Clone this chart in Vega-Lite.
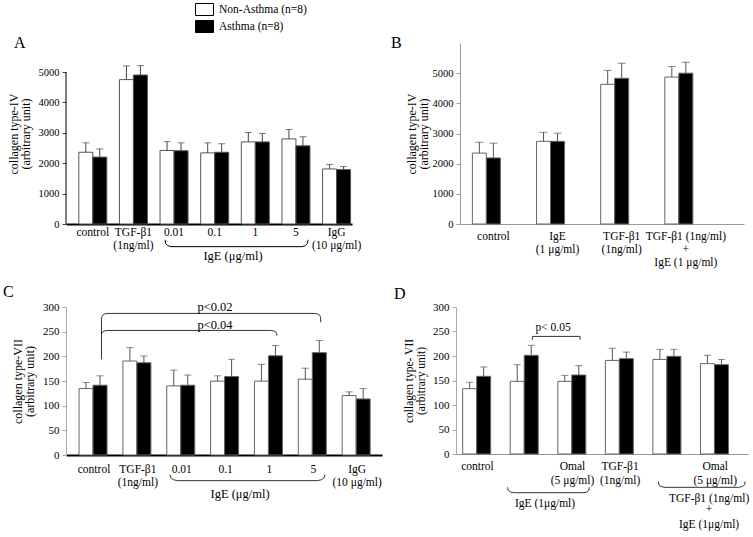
{
  "$schema": "https://vega.github.io/schema/vega-lite/v6.json",
  "padding": {"left": 3, "top": 3, "right": 0, "bottom": 0},
  "background": "white",
  "config": {
    "font": "Liberation Serif, Times New Roman, serif",
    "view": {"stroke": null},
    "axis": {"grid": false, "labelFont": "Liberation Serif, Times New Roman, serif", "titleFont": "Liberation Serif, Times New Roman, serif", "labelColor": "black", "titleColor": "black", "titleFontWeight": "normal", "format": "d", "labelOverlap": false},
    "title": {"font": "Liberation Serif, Times New Roman, serif", "fontSize": 16, "fontWeight": "normal", "anchor": "start", "frame": "group", "color": "black"},
    "text": {"font": "Liberation Serif, Times New Roman, serif", "fontSize": 12.5},
    "legend": {"labelFont": "Liberation Serif, Times New Roman, serif"}
  },
  "datasets": {
    "bars": [
      {"panel": "A", "group": "control", "status": "Non-Asthma (n=8)", "value": 2360, "err": 2670},
      {"panel": "A", "group": "control", "status": "Asthma (n=8)", "value": 2200, "err": 2470},
      {"panel": "A", "group": "TGF-β1", "status": "Non-Asthma (n=8)", "value": 4750, "err": 5200},
      {"panel": "A", "group": "TGF-β1", "status": "Asthma (n=8)", "value": 4900, "err": 5210},
      {"panel": "A", "group": "IgE 0.01", "status": "Non-Asthma (n=8)", "value": 2420, "err": 2710},
      {"panel": "A", "group": "IgE 0.01", "status": "Asthma (n=8)", "value": 2410, "err": 2670},
      {"panel": "A", "group": "IgE 0.1", "status": "Non-Asthma (n=8)", "value": 2340, "err": 2670},
      {"panel": "A", "group": "IgE 0.1", "status": "Asthma (n=8)", "value": 2360, "err": 2640},
      {"panel": "A", "group": "IgE 1", "status": "Non-Asthma (n=8)", "value": 2700, "err": 3010},
      {"panel": "A", "group": "IgE 1", "status": "Asthma (n=8)", "value": 2700, "err": 2980},
      {"panel": "A", "group": "IgE 5", "status": "Non-Asthma (n=8)", "value": 2800, "err": 3110},
      {"panel": "A", "group": "IgE 5", "status": "Asthma (n=8)", "value": 2570, "err": 2870},
      {"panel": "A", "group": "IgG", "status": "Non-Asthma (n=8)", "value": 1810, "err": 1960},
      {"panel": "A", "group": "IgG", "status": "Asthma (n=8)", "value": 1790, "err": 1890},
      {"panel": "B", "group": "control", "status": "Non-Asthma (n=8)", "value": 2350, "err": 2710},
      {"panel": "B", "group": "control", "status": "Asthma (n=8)", "value": 2190, "err": 2680},
      {"panel": "B", "group": "IgE", "status": "Non-Asthma (n=8)", "value": 2740, "err": 3040},
      {"panel": "B", "group": "IgE", "status": "Asthma (n=8)", "value": 2740, "err": 3010},
      {"panel": "B", "group": "TGF-β1", "status": "Non-Asthma (n=8)", "value": 4630, "err": 5090},
      {"panel": "B", "group": "TGF-β1", "status": "Asthma (n=8)", "value": 4830, "err": 5330},
      {"panel": "B", "group": "TGF-β1 + IgE", "status": "Non-Asthma (n=8)", "value": 4870, "err": 5220},
      {"panel": "B", "group": "TGF-β1 + IgE", "status": "Asthma (n=8)", "value": 5000, "err": 5360},
      {"panel": "C", "group": "control", "status": "Non-Asthma (n=8)", "value": 134.7, "err": 147},
      {"panel": "C", "group": "control", "status": "Asthma (n=8)", "value": 141.5, "err": 160.5},
      {"panel": "C", "group": "TGF-β1", "status": "Non-Asthma (n=8)", "value": 190.5, "err": 217.7},
      {"panel": "C", "group": "TGF-β1", "status": "Asthma (n=8)", "value": 187, "err": 200.7},
      {"panel": "C", "group": "IgE 0.01", "status": "Non-Asthma (n=8)", "value": 140, "err": 172},
      {"panel": "C", "group": "IgE 0.01", "status": "Asthma (n=8)", "value": 141.5, "err": 162},
      {"panel": "C", "group": "IgE 0.1", "status": "Non-Asthma (n=8)", "value": 149.7, "err": 160.5},
      {"panel": "C", "group": "IgE 0.1", "status": "Asthma (n=8)", "value": 159, "err": 194},
      {"panel": "C", "group": "IgE 1", "status": "Non-Asthma (n=8)", "value": 149.7, "err": 183.7},
      {"panel": "C", "group": "IgE 1", "status": "Asthma (n=8)", "value": 201, "err": 221.8},
      {"panel": "C", "group": "IgE 5", "status": "Non-Asthma (n=8)", "value": 153.7, "err": 176},
      {"panel": "C", "group": "IgE 5", "status": "Asthma (n=8)", "value": 207.5, "err": 232},
      {"panel": "C", "group": "IgG", "status": "Non-Asthma (n=8)", "value": 120.4, "err": 128},
      {"panel": "C", "group": "IgG", "status": "Asthma (n=8)", "value": 113.6, "err": 134.7},
      {"panel": "D", "group": "control", "status": "Non-Asthma (n=8)", "value": 133.3, "err": 146.3},
      {"panel": "D", "group": "control", "status": "Asthma (n=8)", "value": 158.5, "err": 177.6},
      {"panel": "D", "group": "IgE", "status": "Non-Asthma (n=8)", "value": 148.3, "err": 182.3},
      {"panel": "D", "group": "IgE", "status": "Asthma (n=8)", "value": 201.4, "err": 221.8},
      {"panel": "D", "group": "IgE + Omal", "status": "Non-Asthma (n=8)", "value": 148.3, "err": 160.5},
      {"panel": "D", "group": "IgE + Omal", "status": "Asthma (n=8)", "value": 161.2, "err": 180.3},
      {"panel": "D", "group": "TGF-β1", "status": "Non-Asthma (n=8)", "value": 191, "err": 216},
      {"panel": "D", "group": "TGF-β1", "status": "Asthma (n=8)", "value": 194.6, "err": 208},
      {"panel": "D", "group": "TGF-β1 + IgE", "status": "Non-Asthma (n=8)", "value": 193, "err": 213.6},
      {"panel": "D", "group": "TGF-β1 + IgE", "status": "Asthma (n=8)", "value": 199.3, "err": 213.6},
      {"panel": "D", "group": "TGF-β1 + IgE + Omal", "status": "Non-Asthma (n=8)", "value": 184.4, "err": 201.4},
      {"panel": "D", "group": "TGF-β1 + IgE + Omal", "status": "Asthma (n=8)", "value": 182.3, "err": 193}
    ],
    "lines": [
      {"panel": "A", "id": "A0", "k": 1, "x": -0.659, "y": 0},
      {"panel": "A", "id": "A0", "k": 2, "x": -0.659, "y": 5000},
      {"panel": "A", "id": "A1", "k": 1, "x": 1.78, "y": -520},
      {"panel": "A", "id": "A1", "k": 2, "x": 1.79, "y": -640},
      {"panel": "A", "id": "A1", "k": 3, "x": 1.84, "y": -710},
      {"panel": "A", "id": "A1", "k": 4, "x": 1.92, "y": -745},
      {"panel": "A", "id": "A1", "k": 5, "x": 5.15, "y": -745},
      {"panel": "A", "id": "A1", "k": 6, "x": 5.23, "y": -710},
      {"panel": "A", "id": "A1", "k": 7, "x": 5.28, "y": -640},
      {"panel": "A", "id": "A1", "k": 8, "x": 5.3, "y": -520},
      {"panel": "C", "id": "C1", "k": 1, "x": 1.73, "y": -40},
      {"panel": "C", "id": "C1", "k": 2, "x": 1.75, "y": -46},
      {"panel": "C", "id": "C1", "k": 3, "x": 1.81, "y": -50},
      {"panel": "C", "id": "C1", "k": 4, "x": 1.9, "y": -52},
      {"panel": "C", "id": "C1", "k": 5, "x": 5.1, "y": -52},
      {"panel": "C", "id": "C1", "k": 6, "x": 5.19, "y": -50},
      {"panel": "C", "id": "C1", "k": 7, "x": 5.25, "y": -46},
      {"panel": "C", "id": "C1", "k": 8, "x": 5.27, "y": -40},
      {"panel": "C", "id": "C2", "k": 1, "x": 0.17, "y": 194},
      {"panel": "C", "id": "C2", "k": 2, "x": 0.17, "y": 278},
      {"panel": "C", "id": "C2", "k": 3, "x": 0.19, "y": 283},
      {"panel": "C", "id": "C2", "k": 4, "x": 0.24, "y": 286},
      {"panel": "C", "id": "C2", "k": 5, "x": 0.32, "y": 287},
      {"panel": "C", "id": "C2", "k": 6, "x": 5.02, "y": 287},
      {"panel": "C", "id": "C2", "k": 7, "x": 5.1, "y": 286},
      {"panel": "C", "id": "C2", "k": 8, "x": 5.15, "y": 283},
      {"panel": "C", "id": "C2", "k": 9, "x": 5.17, "y": 278},
      {"panel": "C", "id": "C2", "k": 10, "x": 5.17, "y": 269},
      {"panel": "C", "id": "C3", "k": 1, "x": 0.17, "y": 244},
      {"panel": "C", "id": "C3", "k": 2, "x": 0.19, "y": 249},
      {"panel": "C", "id": "C3", "k": 3, "x": 0.24, "y": 251.5},
      {"panel": "C", "id": "C3", "k": 4, "x": 0.32, "y": 252.5},
      {"panel": "C", "id": "C3", "k": 5, "x": 4.02, "y": 252.5},
      {"panel": "C", "id": "C3", "k": 6, "x": 4.1, "y": 251.5},
      {"panel": "C", "id": "C3", "k": 7, "x": 4.15, "y": 249},
      {"panel": "C", "id": "C3", "k": 8, "x": 4.17, "y": 244},
      {"panel": "C", "id": "C3", "k": 9, "x": 4.17, "y": 242},
      {"panel": "D", "id": "D1", "k": 1, "x": 1.155, "y": 233},
      {"panel": "D", "id": "D1", "k": 2, "x": 1.155, "y": 240},
      {"panel": "D", "id": "D1", "k": 3, "x": 2.155, "y": 240},
      {"panel": "D", "id": "D1", "k": 4, "x": 2.155, "y": 233},
      {"panel": "D", "id": "D2", "k": 1, "x": 0.63, "y": -68},
      {"panel": "D", "id": "D2", "k": 2, "x": 0.645, "y": -74},
      {"panel": "D", "id": "D2", "k": 3, "x": 0.7, "y": -78},
      {"panel": "D", "id": "D2", "k": 4, "x": 0.78, "y": -79},
      {"panel": "D", "id": "D2", "k": 5, "x": 2.2, "y": -79},
      {"panel": "D", "id": "D2", "k": 6, "x": 2.29, "y": -78},
      {"panel": "D", "id": "D2", "k": 7, "x": 2.34, "y": -74},
      {"panel": "D", "id": "D2", "k": 8, "x": 2.355, "y": -68},
      {"panel": "D", "id": "D3", "k": 1, "x": 3.8, "y": -56},
      {"panel": "D", "id": "D3", "k": 2, "x": 3.815, "y": -63},
      {"panel": "D", "id": "D3", "k": 3, "x": 3.86, "y": -66.5},
      {"panel": "D", "id": "D3", "k": 4, "x": 3.94, "y": -68},
      {"panel": "D", "id": "D3", "k": 5, "x": 5.49, "y": -68},
      {"panel": "D", "id": "D3", "k": 6, "x": 5.57, "y": -66.5},
      {"panel": "D", "id": "D3", "k": 7, "x": 5.615, "y": -63},
      {"panel": "D", "id": "D3", "k": 8, "x": 5.63, "y": -56}
    ],
    "texts": [
      {"panel": "A", "x": 3.45, "y": -1050, "text": "IgE (μg/ml)"},
      {"panel": "C", "x": 3.33, "y": -79, "text": "IgE (μg/ml)"},
      {"panel": "C", "x": 2.76, "y": 300, "text": "p<0.02"},
      {"panel": "C", "x": 2.76, "y": 263, "text": "p<0.04"},
      {"panel": "D", "x": 1.59, "y": 258, "text": "p< 0.05"},
      {"panel": "D", "x": 1.42, "y": -102, "text": "IgE (1μg/ml)"},
      {"panel": "D", "x": 4.87, "y": -91, "text": "TGF-β1 (1ng/ml)"},
      {"panel": "D", "x": 4.87, "y": -114, "text": "+"},
      {"panel": "D", "x": 4.87, "y": -145, "text": "IgE (1μg/ml)"}
    ]
  },
  "vconcat": [
    {
      "spacing": 30,
      "hconcat": [
        {
          "width": 286, "height": 181,
          "title": {"text": "A", "dx": -52, "dy": 12},
          "layer": [
            {
              "data": {"name": "bars"},
              "transform": [{"filter": "datum.panel == 'A'"}],
              "encoding": {
                "x": {"field": "group", "type": "nominal", "sort": null,
                  "scale": {"paddingInner": 0.311, "paddingOuter": 0.175, "align": 0.9},
                  "axis": {"title": null, "labelAngle": 0, "ticks": false, "domainColor": "black", "domainWidth": 2, "labelFontSize": 11.5, "labelPadding": 2, "labelLineHeight": 13, "labelOverlap": false, "labelBound": false,
                    "labelExpr": "datum.value == 'TGF-β1' ? ['TGF-β1', '(1ng/ml)'] : datum.value == 'IgG' ? ['IgG', '(10 μg/ml)'] : replace(datum.value, 'IgE ', '')"}},
                "xOffset": {"field": "status", "type": "nominal", "sort": ["Non-Asthma (n=8)", "Asthma (n=8)"], "scale": {"paddingInner": 0, "paddingOuter": 0}}
              },
              "layer": [
                {"mark": {"type": "bar", "stroke": "#555", "strokeWidth": 1},
                 "encoding": {
                   "y": {"field": "value", "type": "quantitative", "scale": {"domain": [0, 5954], "nice": false},
                     "axis": {"values": [0, 1000, 2000, 3000, 4000, 5000], "domain": false, "labelOverlap": false, "title": ["collagen type-IV", "(arbitrary unit)"], "titleFontSize": 12, "titlePadding": 6, "titleLineHeight": 12, "labelFontSize": 10.5, "tickSize": 4, "tickColor": "#444", "labelPadding": 3}},
                   "color": {"field": "status", "type": "nominal", "sort": ["Non-Asthma (n=8)", "Asthma (n=8)"], "scale": {"domain": ["Non-Asthma (n=8)", "Asthma (n=8)"], "range": ["white", "black"]},
                     "legend": {"orient": "none", "legendX": 132, "legendY": -40, "title": null, "symbolType": "M-1.5,-1H1.5V1H-1.5Z", "symbolSize": 144, "symbolStrokeColor": "black", "symbolStrokeWidth": 1, "labelFontSize": 11.5, "rowPadding": 0, "labelOffset": 8}}
                 }},
                {"mark": {"type": "rule", "color": "#444"},
                 "encoding": {"y": {"field": "value", "type": "quantitative", "scale": {"domain": [0, 5954], "nice": false},
                     "axis": {"values": [0, 1000, 2000, 3000, 4000, 5000], "domain": false, "labelOverlap": false, "title": ["collagen type-IV", "(arbitrary unit)"], "titleFontSize": 12, "titlePadding": 6, "titleLineHeight": 12, "labelFontSize": 10.5, "tickSize": 4, "tickColor": "#444", "labelPadding": 3}}, "y2": {"field": "err"}}},
                {"mark": {"type": "tick", "color": "#444", "size": 7, "thickness": 1},
                 "encoding": {"y": {"field": "err", "type": "quantitative", "scale": {"domain": [0, 5954], "nice": false},
                     "axis": {"values": [0, 1000, 2000, 3000, 4000, 5000], "domain": false, "labelOverlap": false, "title": ["collagen type-IV", "(arbitrary unit)"], "titleFontSize": 12, "titlePadding": 6, "titleLineHeight": 12, "labelFontSize": 10.5, "tickSize": 4, "tickColor": "#444", "labelPadding": 3}}}}
              ]
            },
            {
              "data": {"name": "lines"},
              "transform": [{"filter": "datum.panel == 'A'"}],
              "mark": {"type": "line", "color": "black", "strokeWidth": 1},
              "encoding": {
                "x": {"field": "x", "type": "quantitative", "scale": {"domain": [-0.659, 6.378], "nice": false, "zero": false}, "axis": null},
                "y": {"field": "y", "type": "quantitative", "scale": {"domain": [0, 5954], "nice": false},
                     "axis": {"values": [0, 1000, 2000, 3000, 4000, 5000], "domain": false, "labelOverlap": false, "title": ["collagen type-IV", "(arbitrary unit)"], "titleFontSize": 12, "titlePadding": 6, "titleLineHeight": 12, "labelFontSize": 10.5, "tickSize": 4, "tickColor": "#444", "labelPadding": 3}},
                "order": {"field": "k", "type": "quantitative"},
                "detail": {"field": "id"}
              }
            },
            {
              "data": {"name": "texts"},
              "transform": [{"filter": "datum.panel == 'A'"}],
              "mark": {"type": "text", "baseline": "middle", "align": "center", "color": "black"},
              "encoding": {
                "x": {"field": "x", "type": "quantitative", "scale": {"domain": [-0.659, 6.378], "nice": false, "zero": false}, "axis": null},
                "y": {"field": "y", "type": "quantitative", "scale": {"domain": [0, 5954], "nice": false},
                     "axis": {"values": [0, 1000, 2000, 3000, 4000, 5000], "domain": false, "labelOverlap": false, "title": ["collagen type-IV", "(arbitrary unit)"], "titleFontSize": 12, "titlePadding": 6, "titleLineHeight": 12, "labelFontSize": 10.5, "tickSize": 4, "tickColor": "#444", "labelPadding": 3}},
                "text": {"field": "text"}
              }
            }
          ],
          "resolve": {"scale": {"x": "independent"}}
        },
        {
          "width": 284, "height": 181,
          "title": {"text": "B", "dx": -69, "dy": 12},
          "layer": [
            {
              "data": {"name": "bars"},
              "transform": [{"filter": "datum.panel == 'B'"}],
              "encoding": {
                "x": {"field": "group", "type": "nominal", "sort": null,
                  "scale": {"paddingInner": 0.345, "paddingOuter": 0.386, "align": 0.25},
                  "axis": {"title": null, "labelAngle": 0, "ticks": false, "domainColor": "#999", "domainWidth": 1, "labelFontSize": 11.5, "labelPadding": 6, "labelLineHeight": 13, "labelOverlap": false, "labelBound": false,
                    "labelExpr": "datum.value == 'IgE' ? ['IgE', '(1 μg/ml)'] : datum.value == 'TGF-β1' ? ['TGF-β1', '(1ng/ml)'] : datum.value == 'TGF-β1 + IgE' ? ['TGF-β1 (1ng/ml)', '+', 'IgE (1 μg/ml)'] : datum.value"}},
                "xOffset": {"field": "status", "type": "nominal", "sort": ["Non-Asthma (n=8)", "Asthma (n=8)"], "scale": {"paddingInner": 0, "paddingOuter": 0}}
              },
              "layer": [
                {"mark": {"type": "bar", "stroke": "#666", "strokeWidth": 1},
                 "encoding": {
                   "y": {"field": "value", "type": "quantitative", "scale": {"domain": [0, 6000], "nice": false},
                     "axis": {"values": [0, 1000, 2000, 3000, 4000, 5000], "labelOverlap": false, "title": ["collagen type-IV", "(arbitrary unit)"], "titleFontSize": 12, "titlePadding": 2, "titleLineHeight": 12, "labelFontSize": 10.5, "tickSize": 4, "domainColor": "#999", "tickColor": "#999", "labelPadding": 3}},
                   "color": {"field": "status", "type": "nominal", "sort": ["Non-Asthma (n=8)", "Asthma (n=8)"], "scale": {"domain": ["Non-Asthma (n=8)", "Asthma (n=8)"], "range": ["white", "black"]},
                     "legend": {"orient": "none", "legendX": 132, "legendY": -40, "title": null, "symbolType": "M-1.5,-1H1.5V1H-1.5Z", "symbolSize": 144, "symbolStrokeColor": "black", "symbolStrokeWidth": 1, "labelFontSize": 11.5, "rowPadding": 0, "labelOffset": 8}}
                 }},
                {"mark": {"type": "rule", "color": "#555"},
                 "encoding": {"y": {"field": "value", "type": "quantitative", "scale": {"domain": [0, 6000], "nice": false},
                     "axis": {"values": [0, 1000, 2000, 3000, 4000, 5000], "labelOverlap": false, "title": ["collagen type-IV", "(arbitrary unit)"], "titleFontSize": 12, "titlePadding": 2, "titleLineHeight": 12, "labelFontSize": 10.5, "tickSize": 4, "domainColor": "#999", "tickColor": "#999", "labelPadding": 3}}, "y2": {"field": "err"}}},
                {"mark": {"type": "tick", "color": "#555", "size": 8, "thickness": 1},
                 "encoding": {"y": {"field": "err", "type": "quantitative", "scale": {"domain": [0, 6000], "nice": false},
                     "axis": {"values": [0, 1000, 2000, 3000, 4000, 5000], "labelOverlap": false, "title": ["collagen type-IV", "(arbitrary unit)"], "titleFontSize": 12, "titlePadding": 2, "titleLineHeight": 12, "labelFontSize": 10.5, "tickSize": 4, "domainColor": "#999", "tickColor": "#999", "labelPadding": 3}}}}
              ]
            }
          ]
        }
      ]
    },
    {
      "spacing": 12,
      "hconcat": [
        {
          "width": 316, "height": 148,
          "title": {"text": "C", "dx": -63, "dy": 3},
          "layer": [
            {
              "data": {"name": "bars"},
              "transform": [{"filter": "datum.panel == 'C'"}],
              "encoding": {
                "x": {"field": "group", "type": "nominal", "sort": null,
                  "scale": {"paddingInner": 0.316, "paddingOuter": 0.261, "align": 0.57},
                  "axis": {"title": null, "labelAngle": 0, "ticks": false, "domainColor": "black", "domainWidth": 2, "labelFontSize": 11.5, "labelPadding": 8, "labelLineHeight": 13, "labelOverlap": false, "labelBound": false,
                    "labelExpr": "datum.value == 'TGF-β1' ? ['TGF-β1', '(1ng/ml)'] : datum.value == 'IgG' ? ['IgG', '(10 μg/ml)'] : replace(datum.value, 'IgE ', '')"}},
                "xOffset": {"field": "status", "type": "nominal", "sort": ["Non-Asthma (n=8)", "Asthma (n=8)"], "scale": {"paddingInner": 0, "paddingOuter": 0}}
              },
              "layer": [
                {"mark": {"type": "bar", "stroke": "#666", "strokeWidth": 1},
                 "encoding": {
                   "y": {"field": "value", "type": "quantitative", "scale": {"domain": [0, 300], "nice": false},
                     "axis": {"values": [0, 50, 100, 150, 200, 250, 300], "labelOverlap": false, "title": ["collagen type-VII", "(arbitrary unit)"], "titleFontSize": 12, "titlePadding": 6, "titleLineHeight": 12, "labelFontSize": 11, "tickSize": 4, "domainColor": "#aaa", "tickColor": "#aaa", "labelPadding": 3}},
                   "color": {"field": "status", "type": "nominal", "sort": ["Non-Asthma (n=8)", "Asthma (n=8)"], "scale": {"domain": ["Non-Asthma (n=8)", "Asthma (n=8)"], "range": ["white", "black"]},
                     "legend": {"orient": "none", "legendX": 132, "legendY": -40, "title": null, "symbolType": "M-1.5,-1H1.5V1H-1.5Z", "symbolSize": 144, "symbolStrokeColor": "black", "symbolStrokeWidth": 1, "labelFontSize": 11.5, "rowPadding": 0, "labelOffset": 8}}
                 }},
                {"mark": {"type": "rule", "color": "#555"},
                 "encoding": {"y": {"field": "value", "type": "quantitative", "scale": {"domain": [0, 300], "nice": false},
                     "axis": {"values": [0, 50, 100, 150, 200, 250, 300], "labelOverlap": false, "title": ["collagen type-VII", "(arbitrary unit)"], "titleFontSize": 12, "titlePadding": 6, "titleLineHeight": 12, "labelFontSize": 11, "tickSize": 4, "domainColor": "#aaa", "tickColor": "#aaa", "labelPadding": 3}}, "y2": {"field": "err"}}},
                {"mark": {"type": "tick", "color": "#555", "size": 7, "thickness": 1},
                 "encoding": {"y": {"field": "err", "type": "quantitative", "scale": {"domain": [0, 300], "nice": false},
                     "axis": {"values": [0, 50, 100, 150, 200, 250, 300], "labelOverlap": false, "title": ["collagen type-VII", "(arbitrary unit)"], "titleFontSize": 12, "titlePadding": 6, "titleLineHeight": 12, "labelFontSize": 11, "tickSize": 4, "domainColor": "#aaa", "tickColor": "#aaa", "labelPadding": 3}}}}
              ]
            },
            {
              "data": {"name": "lines"},
              "transform": [{"filter": "datum.panel == 'C'"}],
              "mark": {"type": "line", "color": "#333", "strokeWidth": 1},
              "encoding": {
                "x": {"field": "x", "type": "quantitative", "scale": {"domain": [-0.639, 6.568], "nice": false, "zero": false}, "axis": null},
                "y": {"field": "y", "type": "quantitative", "scale": {"domain": [0, 300], "nice": false},
                     "axis": {"values": [0, 50, 100, 150, 200, 250, 300], "labelOverlap": false, "title": ["collagen type-VII", "(arbitrary unit)"], "titleFontSize": 12, "titlePadding": 6, "titleLineHeight": 12, "labelFontSize": 11, "tickSize": 4, "domainColor": "#aaa", "tickColor": "#aaa", "labelPadding": 3}},
                "order": {"field": "k", "type": "quantitative"},
                "detail": {"field": "id"}
              }
            },
            {
              "data": {"name": "texts"},
              "transform": [{"filter": "datum.panel == 'C'"}],
              "mark": {"type": "text", "baseline": "middle", "align": "center", "color": "black"},
              "encoding": {
                "x": {"field": "x", "type": "quantitative", "scale": {"domain": [-0.639, 6.568], "nice": false, "zero": false}, "axis": null},
                "y": {"field": "y", "type": "quantitative", "scale": {"domain": [0, 300], "nice": false},
                     "axis": {"values": [0, 50, 100, 150, 200, 250, 300], "labelOverlap": false, "title": ["collagen type-VII", "(arbitrary unit)"], "titleFontSize": 12, "titlePadding": 6, "titleLineHeight": 12, "labelFontSize": 11, "tickSize": 4, "domainColor": "#aaa", "tickColor": "#aaa", "labelPadding": 3}},
                "text": {"field": "text"}
              }
            }
          ],
          "resolve": {"scale": {"x": "independent"}}
        },
        {
          "width": 292, "height": 147,
          "title": {"text": "D", "dx": -62, "dy": 5},
          "layer": [
            {
              "data": {"name": "bars"},
              "transform": [{"filter": "datum.panel == 'D'"}],
              "encoding": {
                "x": {"field": "group", "type": "nominal", "sort": null,
                  "scale": {"paddingInner": 0.38, "paddingOuter": 0.26, "align": 0.27},
                  "axis": {"title": null, "labelAngle": 0, "ticks": false, "domainColor": "#999", "domainWidth": 1, "labelFontSize": 11.5, "labelPadding": 6, "labelLineHeight": 14, "labelOverlap": false, "labelBound": false,
                    "labelExpr": "datum.value == 'control' ? 'control' : (datum.value == 'IgE + Omal' || datum.value == 'TGF-β1 + IgE + Omal') ? ['Omal', '(5 μg/ml)'] : datum.value == 'TGF-β1' ? ['TGF-β1', '(1ng/ml)'] : ''"}},
                "xOffset": {"field": "status", "type": "nominal", "sort": ["Non-Asthma (n=8)", "Asthma (n=8)"], "scale": {"paddingInner": 0, "paddingOuter": 0}}
              },
              "layer": [
                {"mark": {"type": "bar", "stroke": "#666", "strokeWidth": 1},
                 "encoding": {
                   "y": {"field": "value", "type": "quantitative", "scale": {"domain": [0, 300], "nice": false},
                     "axis": {"values": [0, 50, 100, 150, 200, 250, 300], "labelOverlap": false, "title": ["collagen type- VII", "(arbitrary unit)"], "titleFontSize": 11.5, "titlePadding": 6, "titleLineHeight": 12, "labelFontSize": 11, "tickSize": 4, "domainColor": "#aaa", "tickColor": "#aaa", "labelPadding": 3}},
                   "color": {"field": "status", "type": "nominal", "sort": ["Non-Asthma (n=8)", "Asthma (n=8)"], "scale": {"domain": ["Non-Asthma (n=8)", "Asthma (n=8)"], "range": ["white", "black"]},
                     "legend": {"orient": "none", "legendX": 132, "legendY": -40, "title": null, "symbolType": "M-1.5,-1H1.5V1H-1.5Z", "symbolSize": 144, "symbolStrokeColor": "black", "symbolStrokeWidth": 1, "labelFontSize": 11.5, "rowPadding": 0, "labelOffset": 8}}
                 }},
                {"mark": {"type": "rule", "color": "#555"},
                 "encoding": {"y": {"field": "value", "type": "quantitative", "scale": {"domain": [0, 300], "nice": false},
                     "axis": {"values": [0, 50, 100, 150, 200, 250, 300], "labelOverlap": false, "title": ["collagen type- VII", "(arbitrary unit)"], "titleFontSize": 11.5, "titlePadding": 6, "titleLineHeight": 12, "labelFontSize": 11, "tickSize": 4, "domainColor": "#aaa", "tickColor": "#aaa", "labelPadding": 3}}, "y2": {"field": "err"}}},
                {"mark": {"type": "tick", "color": "#555", "size": 7, "thickness": 1},
                 "encoding": {"y": {"field": "err", "type": "quantitative", "scale": {"domain": [0, 300], "nice": false},
                     "axis": {"values": [0, 50, 100, 150, 200, 250, 300], "labelOverlap": false, "title": ["collagen type- VII", "(arbitrary unit)"], "titleFontSize": 11.5, "titlePadding": 6, "titleLineHeight": 12, "labelFontSize": 11, "tickSize": 4, "domainColor": "#aaa", "tickColor": "#aaa", "labelPadding": 3}}}}
              ]
            },
            {
              "data": {"name": "lines"},
              "transform": [{"filter": "datum.panel == 'D'"}],
              "mark": {"type": "line", "color": "#333", "strokeWidth": 1},
              "encoding": {
                "x": {"field": "x", "type": "quantitative", "scale": {"domain": [-0.452, 5.688], "nice": false, "zero": false}, "axis": null},
                "y": {"field": "y", "type": "quantitative", "scale": {"domain": [0, 300], "nice": false},
                     "axis": {"values": [0, 50, 100, 150, 200, 250, 300], "labelOverlap": false, "title": ["collagen type- VII", "(arbitrary unit)"], "titleFontSize": 11.5, "titlePadding": 6, "titleLineHeight": 12, "labelFontSize": 11, "tickSize": 4, "domainColor": "#aaa", "tickColor": "#aaa", "labelPadding": 3}},
                "order": {"field": "k", "type": "quantitative"},
                "detail": {"field": "id"}
              }
            },
            {
              "data": {"name": "texts"},
              "transform": [{"filter": "datum.panel == 'D'"}],
              "mark": {"type": "text", "baseline": "middle", "align": "center", "color": "black", "fontSize": 11.5},
              "encoding": {
                "x": {"field": "x", "type": "quantitative", "scale": {"domain": [-0.452, 5.688], "nice": false, "zero": false}, "axis": null},
                "y": {"field": "y", "type": "quantitative", "scale": {"domain": [0, 300], "nice": false},
                     "axis": {"values": [0, 50, 100, 150, 200, 250, 300], "labelOverlap": false, "title": ["collagen type- VII", "(arbitrary unit)"], "titleFontSize": 11.5, "titlePadding": 6, "titleLineHeight": 12, "labelFontSize": 11, "tickSize": 4, "domainColor": "#aaa", "tickColor": "#aaa", "labelPadding": 3}},
                "text": {"field": "text"}
              }
            }
          ],
          "resolve": {"scale": {"x": "independent"}}
        }
      ]
    }
  ],
  "spacing": 16
}
